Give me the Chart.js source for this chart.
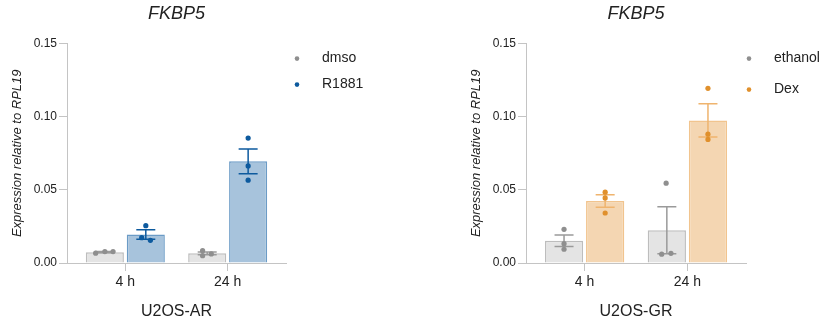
<!DOCTYPE html>
<html>
<head>
<meta charset="utf-8">
<script src="https://cdn.jsdelivr.net/npm/chart.js@4/dist/chart.umd.min.js"></script>
<style>
  body { margin: 0; background: #fff; }
  .wrap { position: absolute; top: 0; width: 411px; height: 324px; }
</style>
</head>
<body>
<div class="wrap" style="left:0"><canvas id="chartAR"></canvas></div>
<div class="wrap" style="left:411px"><canvas id="chartGR"></canvas></div>
<script>
const catLabels = ['4 h', '24 h'];
const yTicks = [0, 0.05, 0.10, 0.15];

// U2OS-AR
const arDmso = [0.0074, 0.0066];
const arDmsoSem = [0.0004, 0.0010];
const arR1881 = [0.0195, 0.0695];
const arR1881Sem = [0.0032, 0.0085];
const arDmsoPts = [[0.0067, 0.0078, 0.0078], [0.0084, 0.0050, 0.0062]];
const arR1881Pts = [[0.0255, 0.0173, 0.0155], [0.0854, 0.0664, 0.0566]];
const arDmsoJitter = [[-0.09, 0, 0.08], [-0.045, -0.045, 0.04]];
const arR1881Jitter = [[0, -0.04, 0.045], [0, 0, 0]];

// U2OS-GR
const grEthanol = [0.0152, 0.0224];
const grEthanolSem = [0.0040, 0.0161];
const grDex = [0.0424, 0.0975];
const grDexSem = [0.0043, 0.0113];
const grEthanolPts = [[0.0230, 0.0132, 0.0094], [0.0546, 0.0060, 0.0066]];
const grDexPts = [[0.0484, 0.0445, 0.0342], [0.1194, 0.0881, 0.0845]];
const grEthanolJitter = [[0, 0, 0], [-0.007, -0.05, 0.04]];
const grDexJitter = [[0, 0, 0], [0, 0, 0]];

Chart.defaults.font.family = "Arial, 'Liberation Sans', sans-serif";
Chart.defaults.color = '#222';

const catPct = 0.8;
const axisGrey = '#c4c4c4';

const errorBars = {
  id: 'errorBars',
  afterDatasetDraw(chart, args) {
    const ds = chart.data.datasets[args.index];
    if (!ds.sem) return;
    const { ctx, scales: { y } } = chart;
    ctx.save();
    ctx.strokeStyle = ds.errColor;
    ctx.lineWidth = 1.5;
    args.meta.data.forEach((bar, i) => {
      const top = y.getPixelForValue(ds.data[i].y + ds.sem[i]);
      const bot = y.getPixelForValue(ds.data[i].y - ds.sem[i]);
      ctx.beginPath();
      ctx.moveTo(bar.x, top); ctx.lineTo(bar.x, bot);
      ctx.moveTo(bar.x - 9.5, top); ctx.lineTo(bar.x + 9.5, top);
      ctx.moveTo(bar.x - 9.5, bot); ctx.lineTo(bar.x + 9.5, bot);
      ctx.stroke();
    });
    ctx.restore();
  }
};

const dotLegend = {
  id: 'dotLegend',
  afterDraw(chart, args, opts) {
    const { ctx, chartArea } = chart;
    ctx.save();
    ctx.font = "14px Arial, 'Liberation Sans', sans-serif";
    ctx.textBaseline = 'middle';
    opts.items.forEach((it, i) => {
      const y = chartArea.top + opts.rows[i];
      ctx.fillStyle = it.color;
      ctx.beginPath();
      ctx.arc(chartArea.right + opts.dotX, y, 2.3, 0, Math.PI * 2);
      ctx.fill();
      ctx.fillStyle = '#222';
      ctx.fillText(it.text, chartArea.right + opts.textX, y);
    });
    ctx.restore();
  }
};

function toXY(vals) {
  return vals.map((v, i) => ({ x: i, y: v }));
}

function toPts(pts, jitter, side) {
  const out = [];
  pts.forEach((grp, i) => grp.forEach((v, k) => out.push({ x: i + side + jitter[i][k], y: v })));
  return out;
}

function makeChart(id, c) {
  const side = catPct / 4;
  new Chart(document.getElementById(id), {
    type: 'bar',
    data: {
      datasets: [
        {
          label: c.names[0], data: toXY(c.means[0]), sem: c.sems[0], errColor: c.err[0],
          backgroundColor: c.fill[0], borderColor: c.border[0], borderWidth: 1.5,
          categoryPercentage: catPct, barPercentage: 0.93, order: 1
        },
        {
          label: c.names[1], data: toXY(c.means[1]), sem: c.sems[1], errColor: c.err[1],
          backgroundColor: c.fill[1], borderColor: c.border[1], borderWidth: 1.5,
          categoryPercentage: catPct, barPercentage: 0.93, order: 1
        },
        {
          type: 'scatter', data: toPts(c.pts[0], c.jitter[0], -side),
          pointRadius: 2.6, pointBorderWidth: 0, pointBackgroundColor: c.dot[0], order: 0
        },
        {
          type: 'scatter', data: toPts(c.pts[1], c.jitter[1], side),
          pointRadius: 2.6, pointBorderWidth: 0, pointBackgroundColor: c.dot[1], order: 0
        }
      ]
    },
    options: {
      responsive: true,
      maintainAspectRatio: false,
      animation: false,
      layout: { padding: { left: c.padLeft, right: c.padRight, top: 0, bottom: 3 } },
      scales: {
        x: {
          type: 'linear', min: -0.57, max: 1.57, offset: false,
          grid: { offset: false, drawOnChartArea: false, drawTicks: true, tickLength: 8, tickColor: axisGrey },
          border: { color: axisGrey, width: 1 },
          ticks: {
            stepSize: 1, includeBounds: false, autoSkip: false, maxRotation: 0, padding: 3,
            font: { size: 14 }, callback: v => catLabels[v] ?? ''
          },
          title: { display: true, text: c.xTitle, font: { size: 16 }, padding: { top: 0, bottom: 0 } },
          afterFit(s) { s.height = 58; }
        },
        y: {
          min: yTicks[0], max: yTicks[yTicks.length - 1],
          grid: { drawOnChartArea: false, drawTicks: true, tickLength: 8, tickColor: axisGrey },
          border: { color: axisGrey, width: 1 },
          ticks: { stepSize: 0.05, padding: 2, font: { size: 12 }, callback: v => v.toFixed(2) },
          title: {
            display: true, text: 'Expression relative to RPL19',
            font: { size: 13, style: 'italic' }, padding: { top: 4, bottom: 4 }
          },
          afterFit(s) { s.width = 61; }
        }
      },
      plugins: {
        legend: { display: false },
        tooltip: { enabled: false },
        title: {
          display: true, text: 'FKBP5', fullSize: false,
          font: { size: 18, style: 'italic', weight: 'normal' },
          padding: { top: 3, bottom: 19 }
        },
        dotLegend: {
          dotX: c.legDotX, textX: c.legTextX, rows: c.legRows,
          items: [{ text: c.names[0], color: c.dot[0] }, { text: c.names[1], color: c.dot[1] }]
        }
      }
    },
    plugins: [errorBars, dotLegend]
  });
}

makeChart('chartAR', {
  names: ['dmso', 'R1881'],
  means: [arDmso, arR1881], sems: [arDmsoSem, arR1881Sem],
  pts: [arDmsoPts, arR1881Pts], jitter: [arDmsoJitter, arR1881Jitter],
  fill: ['#e4e4e4', '#a7c3dc'], border: ['#bdbdbd', '#6b9bc6'],
  dot: ['#8f8f8f', '#0d5a9e'], err: ['#9a9a9a', '#0d5a9e'],
  xTitle: 'U2OS-AR', padLeft: 6, padRight: 125,
  legDotX: 11, legTextX: 36, legRows: [15, 41]
});

makeChart('chartGR', {
  names: ['ethanol', 'Dex'],
  means: [grEthanol, grDex], sems: [grEthanolSem, grDexSem],
  pts: [grEthanolPts, grDexPts], jitter: [grEthanolJitter, grDexJitter],
  fill: ['#e4e4e4', '#f4d6b2'], border: ['#bdbdbd', '#f1c48e'],
  dot: ['#8f8f8f', '#e0902c'], err: ['#9a9a9a', '#efb46e'],
  xTitle: 'U2OS-GR', padLeft: 54, padRight: 76,
  legDotX: 3, legTextX: 28, legRows: [15, 46]
});
</script>
</body>
</html>
